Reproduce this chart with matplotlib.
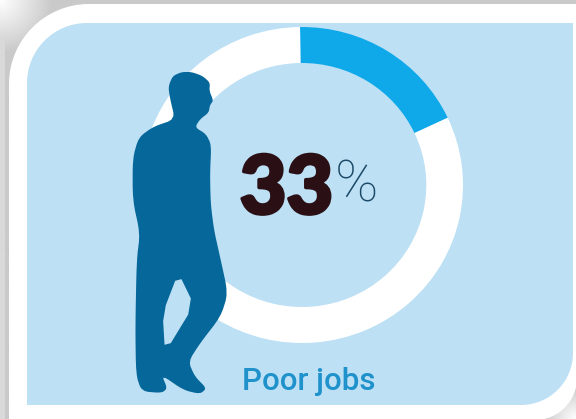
import numpy as np
import matplotlib
matplotlib.use('Agg')
import matplotlib.pyplot as plt
import matplotlib.patheffects as pe
from matplotlib.patches import PathPatch, Polygon
from matplotlib.path import Path

# Data
share_drawn = [18.2, 81.8]
ring_colors = ['#0fa9ea', '#ffffff']
big_number = '33'
percent_sign = '%'
caption = 'Poor jobs'

W, H = 576, 419
PANEL = '#bde0f4'
fig = plt.figure(figsize=(W / 100, H / 100), dpi=100)
ax = fig.add_axes([0, 0, 1, 1])
ax.set_xlim(0, W)
ax.set_ylim(H, 0)
ax.axis('off')

# Grey backdrop with light corners
yy, xx = np.mgrid[0:H, 0:W]
bg = np.full((H, W), 0.79)
bg = np.where(xx < 5, 0.85, bg)
d_tl = np.hypot(xx, yy)
bg = np.maximum(bg, 1 - d_tl / 75 * 0.3)
d_br = np.hypot(W - xx, H - yy)
bg = np.maximum(bg, 1 - d_br / 40 * 0.25)
ax.imshow(bg, cmap='gray', vmin=0, vmax=1, extent=(0, W, H, 0), aspect='auto', zorder=0)


def card(x0, y0, x1, y1, r_tl, r_br):
    k = 0.5523
    verts = [(x0 + r_tl, y0), (x1, y0), (x1, y1 - r_br),
             (x1, y1 - r_br + k * r_br), (x1 - r_br + k * r_br, y1), (x1 - r_br, y1),
             (x0, y1), (x0, y0 + r_tl),
             (x0, y0 + r_tl - k * r_tl), (x0 + r_tl - k * r_tl, y0), (x0 + r_tl, y0), (x0 + r_tl, y0)]
    codes = [Path.MOVETO, Path.LINETO, Path.LINETO,
             Path.CURVE4, Path.CURVE4, Path.CURVE4,
             Path.LINETO, Path.LINETO,
             Path.CURVE4, Path.CURVE4, Path.CURVE4, Path.CLOSEPOLY]
    return Path(verts, codes)


ax.add_patch(PathPatch(card(9, 4, 577, 420, 80, 42), fc='white', ec='none', zorder=1))
ax.add_patch(PathPatch(card(27, 23, 573, 405, 60, 52), fc=PANEL, ec='none', zorder=2))

# Ring
cx, cy, rx, ry = 302, 185, 161, 158
ring_ax = fig.add_axes([(cx - rx) / W, 1 - (cy + ry) / H, 2 * rx / W, 2 * ry / H])
ring_ax.pie(share_drawn, colors=ring_colors, startangle=90.7, counterclock=False, radius=1.0,
            wedgeprops=dict(width=36 / 158, linewidth=0))
ring_ax.set_aspect('auto')
ring_ax.set_xlim(-1, 1)
ring_ax.set_ylim(-1, 1)
ring_ax.patch.set_alpha(0)

# Overlay for silhouette and text
top = fig.add_axes([0, 0, 1, 1])
top.set_xlim(0, W)
top.set_ylim(H, 0)
top.axis('off')
top.patch.set_alpha(0)


def smooth(points, rounds=2):
    p = np.array(points, dtype=float)
    for _ in range(rounds):
        q = np.roll(p, -1, axis=0)
        p = np.column_stack([0.8 * p + 0.2 * q, 0.2 * p + 0.8 * q]).reshape(-1, 2)
    return p


def to_px(p):
    out = p.copy()
    out[:, 0] = 120 + out[:, 0] / 3
    out[:, 1] = 60 + out[:, 1] / 3
    return out


outline = [(185, 36), (215, 36), (248, 48), (270, 68), (268, 92), (280, 122), (270, 135), (266, 158),
           (240, 178), (225, 202), (258, 222), (274, 255), (270, 340), (272, 430), (282, 510), (300, 590),
           (324, 700), (302, 770), (240, 850), (205, 905), (225, 950), (260, 985), (240, 1002), (190, 990),
           (125, 945), (142, 985), (125, 999), (65, 994), (48, 945), (46, 800), (50, 600), (60, 520),
           (38, 420), (38, 295), (56, 232), (100, 200), (165, 178), (150, 115), (145, 80), (158, 48)]
gap = [(175, 638), (222, 735), (135, 878), (128, 760)]
top.add_patch(PathPatch(Path(to_px(smooth(outline))), fc='#05679a', ec='none', zorder=3))
top.add_patch(Polygon(to_px(smooth(gap, 1)), closed=True, fc=PANEL, ec='none', zorder=3.5))

top.text(286.5, 190, big_number, family='Lato', weight='black', fontsize=58, color='#2a1015',
         ha='center', va='center', zorder=4,
         path_effects=[pe.withStroke(linewidth=2.5, foreground='#2a1015')])
top.text(357, 186, percent_sign, family='Roboto', weight='light', fontsize=42, color='#1d4a68',
         ha='center', va='center', zorder=4)
top.text(309, 381, caption, family='Roboto', weight='medium', fontsize=22.5, color='#1f92cc',
         ha='center', va='center', zorder=4)

fig.savefig('out.png', dpi=100)
